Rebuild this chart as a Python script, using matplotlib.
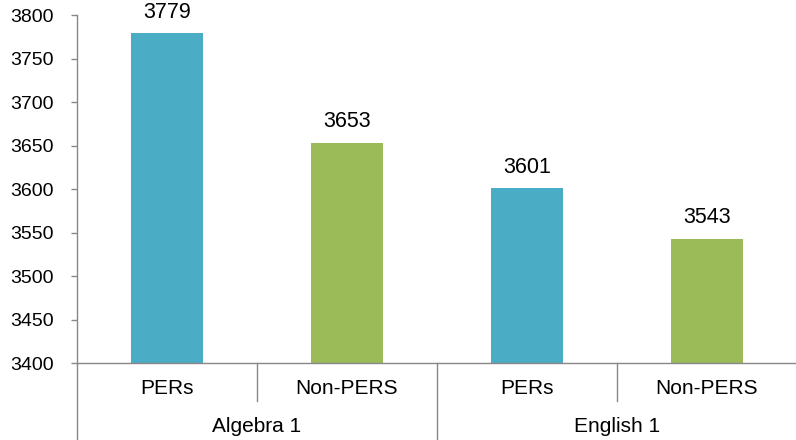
import matplotlib
matplotlib.use("Agg")
import matplotlib.pyplot as plt
from matplotlib.lines import Line2D

# Data
groups = ["Algebra 1", "English 1"]
subgroups = ["PERs", "Non-PERS", "PERs", "Non-PERS"]
values = [3779, 3653, 3601, 3543]
bar_colors = ["#4BACC6", "#9BBB59", "#4BACC6", "#9BBB59"]
y_ticks = [3400, 3450, 3500, 3550, 3600, 3650, 3700, 3750, 3800]

plt.rcParams["font.family"] = ["Liberation Sans", "DejaVu Sans"]
axis_gray = "#888888"
fs_tick, fs_value, fs_cat = 14, 15.5, 15

W, H = 796, 440
fig = plt.figure(figsize=(W / 100, H / 100), dpi=100)
left_px, right_px, top_px, bottom_px = 77, 797, 15, 363
ax = fig.add_axes([left_px / W, 1 - bottom_px / H,
                   (right_px - left_px) / W, (bottom_px - top_px) / H])

x = [i + 0.5 for i in range(len(values))]
bars = ax.bar(x, values, width=0.405, color=bar_colors, bottom=0)
ax.set_xlim(0, len(values))
ax.set_ylim(y_ticks[0], y_ticks[-1])
ax.set_yticks(y_ticks)
ax.set_yticklabels([str(t) for t in y_ticks])
ax.set_xticks([])

for xi, v in zip(x, values):
    ax.annotate(str(v), (xi, v), xytext=(0, 7.5), textcoords="offset points",
                ha="center", va="bottom", fontsize=fs_value, color="#000000")

for s in ["top", "right"]:
    ax.spines[s].set_visible(False)
for s in ["left", "bottom"]:
    ax.spines[s].set_color(axis_gray)
    ax.spines[s].set_linewidth(1.0)

ax.tick_params(axis="y", length=4, width=1.0, color=axis_gray,
               labelsize=fs_tick, pad=13, labelcolor="#000000")

# Multi-level category axis
plot_h = bottom_px - top_px
inner = 38 / plot_h
outer = (H - bottom_px + 2) / plot_h
trans = ax.get_xaxis_transform()
for xs, depth in [(0, outer), (1, inner), (2, outer), (3, inner)]:
    ax.add_line(Line2D([xs, xs], [0, -depth], transform=trans, color=axis_gray,
                       linewidth=1.0, clip_on=False))

lvl1_y = -(388 - bottom_px) / plot_h
lvl2_y = -(427 - bottom_px) / plot_h
for xi, lab in zip(x, subgroups):
    ax.text(xi, lvl1_y, lab, transform=trans, ha="center", va="center", fontsize=fs_cat)
for gi, g in enumerate(groups):
    ax.text(2 * gi + 1, lvl2_y, g, transform=trans, ha="center", va="center", fontsize=fs_cat)

fig.savefig("out.png", dpi=100)
